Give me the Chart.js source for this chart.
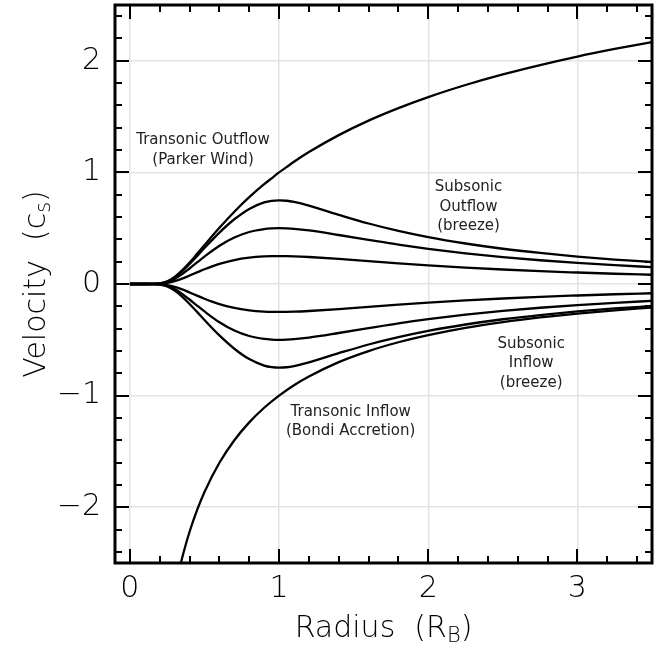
<!DOCTYPE html>
<html>
<head>
<meta charset="utf-8">
<script src="https://cdn.jsdelivr.net/npm/chart.js@4.4.1/dist/chart.umd.min.js"></script>
<style>
  body { margin: 0; background: #fff; }
  canvas { display: block; }
</style>
</head>
<body>
<canvas id="flowChart" width="671" height="650"></canvas>
<script>
// radius samples (R_B) shared by the wind / breeze curves
const radius = [0, 0.1, 0.15, 0.2, 0.25, 0.3, 0.35, 0.4, 0.45, 0.5, 0.6, 0.7, 0.8, 0.9, 0.95, 1.0,
                1.05, 1.1, 1.2, 1.4, 1.6, 1.8, 2.0, 2.25, 2.5, 2.75, 3.0, 3.25, 3.5];

// transonic outflow (Parker wind)
const parkerWind = [0, 0, 0.0003, 0.005, 0.024, 0.064, 0.122, 0.192, 0.270, 0.349, 0.504, 0.648, 0.778, 0.894, 0.947, 1.0,
                    1.047, 1.095, 1.182, 1.334, 1.464, 1.576, 1.675, 1.783, 1.878, 1.962, 2.038, 2.106, 2.168];

// subsonic outflow breezes (peak 0.75, 0.5, 0.25 at r = 1)
const breezeOut75 = [0, 0, 0.0003, 0.0048, 0.022, 0.059, 0.113, 0.179, 0.250, 0.323, 0.461, 0.580, 0.673, 0.731, 0.7455, 0.75,
                     0.746, 0.735, 0.702, 0.620, 0.542, 0.476, 0.420, 0.363, 0.316, 0.278, 0.246, 0.219, 0.197];
const breezeOut50 = [0, 0, 0.0002, 0.0037, 0.0175, 0.046, 0.088, 0.139, 0.193, 0.246, 0.343, 0.417, 0.466, 0.492, 0.498, 0.5,
                     0.498, 0.494, 0.480, 0.439, 0.395, 0.352, 0.315, 0.275, 0.241, 0.213, 0.189, 0.169, 0.151];
const breezeOut25 = [0, 0, 0.0001, 0.002, 0.0096, 0.025, 0.048, 0.076, 0.104, 0.132, 0.180, 0.215, 0.236, 0.247, 0.2493, 0.25,
                     0.2494, 0.248, 0.242, 0.225, 0.205, 0.185, 0.167, 0.147, 0.130, 0.115, 0.103, 0.092, 0.083];

// subsonic inflow breezes
const breezeIn25 = [0, 0, -0.0001, -0.002, -0.0096, -0.025, -0.048, -0.076, -0.104, -0.132, -0.180, -0.215, -0.236, -0.247, -0.2493, -0.25,
                    -0.2494, -0.248, -0.242, -0.225, -0.205, -0.185, -0.167, -0.147, -0.130, -0.115, -0.103, -0.092, -0.083];
const breezeIn50 = [0, 0, -0.0002, -0.0037, -0.0175, -0.046, -0.088, -0.139, -0.193, -0.246, -0.343, -0.417, -0.466, -0.492, -0.498, -0.5,
                    -0.498, -0.494, -0.480, -0.439, -0.395, -0.352, -0.315, -0.275, -0.241, -0.213, -0.189, -0.169, -0.151];
const breezeIn75 = [0, 0, -0.0003, -0.0048, -0.022, -0.059, -0.113, -0.179, -0.250, -0.323, -0.461, -0.580, -0.673, -0.731, -0.7455, -0.75,
                    -0.746, -0.735, -0.702, -0.620, -0.542, -0.476, -0.420, -0.363, -0.316, -0.278, -0.246, -0.219, -0.197];

// transonic inflow (Bondi accretion) has its own radius samples
const bondiRadius = [0.33, 0.35, 0.375, 0.4, 0.45, 0.5, 0.6, 0.7, 0.8, 0.9, 1.0, 1.1, 1.2, 1.4, 1.6,
                     1.8, 2.0, 2.25, 2.5, 2.75, 3.0, 3.25, 3.5];
const bondiInflow = [-2.563, -2.455, -2.332, -2.220, -2.027, -1.863, -1.602, -1.400, -1.240, -1.109, -1.0, -0.907, -0.829, -0.700, -0.601,
                     -0.522, -0.458, -0.393, -0.342, -0.300, -0.265, -0.236, -0.211];

// axis ticks
const xTickValues = [0, 1, 2, 3];
const yTickValues = [-2, -1, 0, 1, 2];

// region labels
const noteLines = [
  ["Transonic Outflow", "(Parker Wind)"],
  ["Subsonic", "Outflow", "(breeze)"],
  ["Subsonic", "Inflow", "(breeze)"],
  ["Transonic Inflow", "(Bondi Accretion)"]
];

const FONT = "'DejaVu Sans', sans-serif";

function toPoints(xs, ys) {
  return xs.map((x, i) => ({ x: x, y: ys[i] }));
}

function curve(xs, ys) {
  return {
    data: toPoints(xs, ys),
    borderColor: "#000",
    borderWidth: 2.3,
    pointRadius: 0,
    fill: false,
    cubicInterpolationMode: "monotone"
  };
}

function minus(v) {
  return v < 0 ? "\u2212" + Math.abs(v) : String(v);
}

// draw a string made of normal / subscript pieces, centred on 0
function drawPieces(ctx, pieces, size) {
  const subSize = Math.round(size * 0.7);
  let total = 0;
  pieces.forEach(p => {
    ctx.font = `200 ${p.sub ? subSize : size}px ${FONT}`;
    p.w = ctx.measureText(p.text).width;
    total += p.w;
  });
  let cx = -total / 2;
  pieces.forEach(p => {
    ctx.font = `200 ${p.sub ? subSize : size}px ${FONT}`;
    ctx.fillText(p.text, cx, p.sub ? size * 0.17 : 0);
    cx += p.w;
  });
}

const framePlugin = {
  id: "framePlugin",
  afterDatasetsDraw(chart) {
    const { ctx, chartArea: a, scales: { x, y } } = chart;
    ctx.save();
    ctx.strokeStyle = "#000";
    ctx.lineWidth = 2;

    // inward ticks on all four sides
    ctx.beginPath();
    for (let i = 0; i <= 17; i++) {
      const v = Math.round(i * 0.2 * 10) / 10;
      const px = Math.round(x.getPixelForValue(v));
      const len = Number.isInteger(v) ? 14 : 7;
      ctx.moveTo(px, a.bottom); ctx.lineTo(px, a.bottom - len);
      ctx.moveTo(px, a.top); ctx.lineTo(px, a.top + len);
    }
    for (let i = -12; i <= 12; i++) {
      const v = Math.round(i * 0.2 * 10) / 10;
      const py = Math.round(y.getPixelForValue(v));
      const len = Number.isInteger(v) ? 14 : 7;
      ctx.moveTo(a.left, py); ctx.lineTo(a.left + len, py);
      ctx.moveTo(a.right, py); ctx.lineTo(a.right - len, py);
    }
    ctx.stroke();

    ctx.lineWidth = 3;
    ctx.strokeRect(a.left, a.top, a.right - a.left, a.bottom - a.top);

    // region notes
    const anchors = [[0.49, 1.285], [2.27, 0.864], [2.69, -0.535], [1.48, -1.145]];
    ctx.fillStyle = "#222";
    ctx.font = `15px ${FONT}`;
    ctx.textAlign = "center";
    ctx.textBaseline = "middle";
    noteLines.forEach((lines, k) => {
      const px = x.getPixelForValue(anchors[k][0]);
      const py = y.getPixelForValue(anchors[k][1]);
      lines.forEach((t, j) => ctx.fillText(t, px, py + j * 19.5));
    });

    // axis titles with subscripts
    ctx.fillStyle = "#000";
    ctx.textAlign = "left";
    ctx.textBaseline = "alphabetic";
    ctx.save();
    ctx.translate((a.left + a.right) / 2, 637);
    drawPieces(ctx, [{ text: "Radius  (R" }, { text: "B", sub: true }, { text: ")" }], 30);
    ctx.restore();
    ctx.save();
    ctx.translate(45, (a.top + a.bottom) / 2);
    ctx.rotate(-Math.PI / 2);
    drawPieces(ctx, [{ text: "Velocity  (c" }, { text: "s", sub: true }, { text: ")" }], 30);
    ctx.restore();

    ctx.restore();
  }
};

const ctx = document.getElementById("flowChart").getContext("2d");

new Chart(ctx, {
  type: "line",
  data: {
    datasets: [
      curve(radius, parkerWind),
      curve(radius, breezeOut75),
      curve(radius, breezeOut50),
      curve(radius, breezeOut25),
      curve(radius, breezeIn25),
      curve(radius, breezeIn50),
      curve(radius, breezeIn75),
      curve(bondiRadius, bondiInflow)
    ]
  },
  options: {
    responsive: false,
    animation: false,
    layout: { padding: { top: 5, right: 19, left: 0, bottom: 0 } },
    plugins: { legend: { display: false }, tooltip: { enabled: false } },
    scales: {
      x: {
        type: "linear",
        min: -0.1,
        max: 3.5,
        afterBuildTicks: s => { s.ticks = xTickValues.map(v => ({ value: v })); },
        afterFit: s => { s.height = 87; s.paddingLeft = 0; s.paddingRight = 0; },
        grid: { color: "#e4e4e4", lineWidth: 1.5, drawTicks: false },
        border: { display: false },
        ticks: {
          padding: 8,
          color: "#000",
          font: { family: FONT, size: 30, weight: "200" },
          callback: v => minus(v)
        }
      },
      y: {
        type: "linear",
        min: -2.5,
        max: 2.5,
        afterBuildTicks: s => { s.ticks = yTickValues.map(v => ({ value: v })); },
        afterFit: s => { s.width = 115; s.paddingTop = 0; s.paddingBottom = 0; },
        grid: { color: "#e4e4e4", lineWidth: 1.5, drawTicks: false },
        border: { display: false },
        ticks: {
          padding: 14,
          color: "#000",
          font: { family: FONT, size: 30, weight: "200" },
          callback: v => minus(v)
        }
      }
    }
  },
  plugins: [framePlugin]
});
</script>
</body>
</html>
